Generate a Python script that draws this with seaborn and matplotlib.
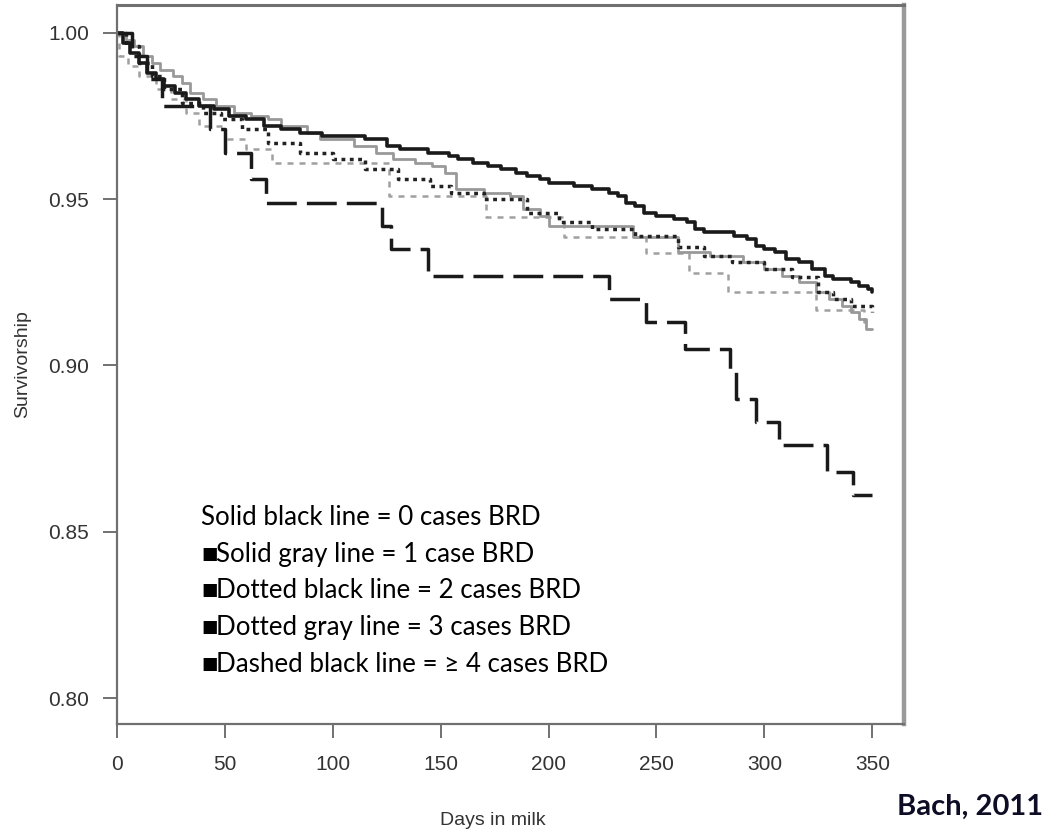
import matplotlib
matplotlib.use("Agg")
import matplotlib.pyplot as plt
import seaborn as sns

# ---- data ----
days_0 = [0, 3, 6, 10, 14, 18, 22, 27, 32, 38, 45, 52, 60, 68, 76, 85, 95, 105, 115, 125, 131, 144,
          154, 158, 165, 172, 178, 185, 190, 196, 200, 212, 220, 228, 232, 236, 240, 244, 250, 258,
          264, 268, 272, 286, 292, 296, 300, 305, 310, 316, 322, 328, 332, 340, 344, 348, 350]
surv_0 = [1.000, 0.997, 0.994, 0.991, 0.988, 0.986, 0.984, 0.982, 0.980, 0.978, 0.977, 0.975, 0.974,
          0.972, 0.971, 0.970, 0.969, 0.969, 0.968, 0.966, 0.965, 0.964, 0.963, 0.962, 0.961, 0.960,
          0.959, 0.958, 0.957, 0.956, 0.955, 0.954, 0.953, 0.952, 0.951, 0.949, 0.948, 0.946, 0.945,
          0.944, 0.943, 0.941, 0.940, 0.939, 0.938, 0.936, 0.935, 0.934, 0.932, 0.931, 0.929, 0.927,
          0.926, 0.925, 0.924, 0.923, 0.922]

days_1 = [0, 4, 8, 12, 16, 20, 26, 30, 34, 40, 46, 54, 62, 70, 76, 88, 94, 110, 120, 128, 138, 146,
          152, 157, 170, 182, 188, 196, 200, 239, 260, 275, 290, 300, 308, 316, 324, 330, 336, 340,
          344, 347, 350]
surv_1 = [1.000, 0.998, 0.996, 0.993, 0.991, 0.989, 0.987, 0.985, 0.982, 0.980, 0.978, 0.976, 0.975,
          0.974, 0.972, 0.970, 0.968, 0.966, 0.964, 0.962, 0.961, 0.960, 0.958, 0.953, 0.952, 0.951,
          0.947, 0.945, 0.942, 0.9386, 0.934, 0.933, 0.931, 0.929, 0.927, 0.925, 0.922, 0.920, 0.918,
          0.916, 0.914, 0.911, 0.911]

days_2 = [0, 4, 10, 16, 22, 30, 40, 48, 58, 70, 85, 100, 115, 130, 145, 155, 170, 190, 205, 220, 240,
          260, 272, 285, 300, 313, 325, 332, 340, 350]
surv_2 = [1.000, 0.996, 0.991, 0.987, 0.983, 0.979, 0.976, 0.974, 0.971, 0.967, 0.964, 0.962, 0.959,
          0.956, 0.954, 0.952, 0.950, 0.946, 0.943, 0.941, 0.939, 0.9355, 0.933, 0.931, 0.929, 0.9265,
          0.922, 0.920, 0.918, 0.916]

days_3 = [0, 1, 5, 10, 18, 25, 32, 38, 50, 60, 72, 126, 171, 207, 245, 265, 283, 324, 346, 350]
surv_3 = [1.000, 0.993, 0.990, 0.987, 0.983, 0.980, 0.976, 0.972, 0.968, 0.965, 0.961, 0.951, 0.9446,
          0.9386, 0.9337, 0.9277, 0.922, 0.9166, 0.913, 0.913]

days_4 = [0, 7, 14, 21, 43, 50, 62, 69, 123, 127, 144, 228, 245, 263, 284, 287, 296, 307, 329, 341, 350]
surv_4 = [1.000, 0.993, 0.986, 0.978, 0.971, 0.964, 0.956, 0.949, 0.942, 0.935, 0.927, 0.920, 0.913,
          0.905, 0.898, 0.890, 0.883, 0.876, 0.868, 0.861, 0.861]

x_ticks = [0, 50, 100, 150, 200, 250, 300, 350]
y_ticks = [0.80, 0.85, 0.90, 0.95, 1.00]
y_tick_labels = ["0.80", "0.85", "0.90", "0.95", "1.00"]

legend_bullets = ["", "\u25a0", "\u25a0", "\u25a0", "\u25a0"]
legend_lines = [
    "Solid black line = 0 cases BRD",
    "Solid gray line = 1 case BRD",
    "Dotted black line = 2 cases BRD",
    "Dotted gray line = 3 cases BRD",
    "Dashed black line = \u2265 4 cases BRD",
]

# ---- styling ----
sns.set_theme(style="white")
plt.rcParams["font.family"] = ["Liberation Sans", "DejaVu Sans"]

W, H = 1051, 832
fig = plt.figure(figsize=(W / 100, H / 100), dpi=100)
ax_l, ax_r, ax_t, ax_b = 117, 904, 5, 724
ax = fig.add_axes([ax_l / W, 1 - ax_b / H, (ax_r - ax_l) / W, (ax_b - ax_t) / H])

common = dict(ax=ax, drawstyle="steps-post", estimator=None, errorbar=None, sort=False)
sns.lineplot(x=days_3, y=surv_3, color="#a0a0a0", linewidth=1.8, linestyle=(0, (2.4, 2.4)), **common)
sns.lineplot(x=days_1, y=surv_1, color="#999999", linewidth=2.0, linestyle="-", **common)
sns.lineplot(x=days_2, y=surv_2, color="#222222", linewidth=2.5, linestyle=(0, (1.1, 1.3)), **common)
sns.lineplot(x=days_4, y=surv_4, color="#1a1a1a", linewidth=2.5, linestyle=(0, (8.6, 2.9)), **common)
sns.lineplot(x=days_0, y=surv_0, color="#1a1a1a", linewidth=2.6, linestyle="-", **common)

ax.set_xlim(0, 364.7)
ax.set_ylim(0.7922, 1.0084)
ax.set_xticks(x_ticks)
ax.set_xticklabels([str(v) for v in x_ticks])
ax.set_yticks(y_ticks)
ax.set_yticklabels(y_tick_labels)
ax.tick_params(axis="both", which="major", direction="out", length=10, width=1.3,
               color="#666666", labelsize=15, labelcolor="#333333",
               bottom=True, left=True)
ax.tick_params(axis="x", pad=12)
ax.tick_params(axis="y", pad=10)

for side in ["left", "bottom", "top"]:
    ax.spines[side].set_color("#707070")
    ax.spines[side].set_linewidth(1.6)
ax.spines["top"].set_linewidth(2.2)
ax.spines["right"].set_color("#9a9a9a")
ax.spines["right"].set_linewidth(3.2)

ax.set_xlabel("Days in milk", fontsize=14, color="#333333")
ax.xaxis.set_label_coords((493 - ax_l) / (ax_r - ax_l), (ax_b - 812) / (ax_b - ax_t))
ax.set_ylabel("Survivorship", fontsize=14, color="#333333")
ax.yaxis.set_label_coords((31 - ax_l) / (ax_r - ax_l), 0.5)

# legend-like annotation text
baselines = [525, 562, 598, 635, 672]
for bullet, txt, bl in zip(legend_bullets, legend_lines, baselines):
    if bullet:
        fig.text(201 / W, 1 - (bl - 3) / H, bullet, fontsize=12.5, color="#000000",
                 family=["DejaVu Sans"], va="baseline", ha="left")
        x0 = 216
    else:
        x0 = 201
    fig.text(x0 / W, 1 - bl / H, txt, fontsize=18.6, color="#000000",
             family=["Lato", "DejaVu Sans"], va="baseline", ha="left")

fig.text(1043 / W, 1 - 815 / H, "Bach, 2011", fontsize=21, fontweight="bold",
         color="#0d0d26", family=["Lato", "DejaVu Sans"], va="baseline", ha="right")

fig.savefig("out.png", dpi=100, facecolor="white")
